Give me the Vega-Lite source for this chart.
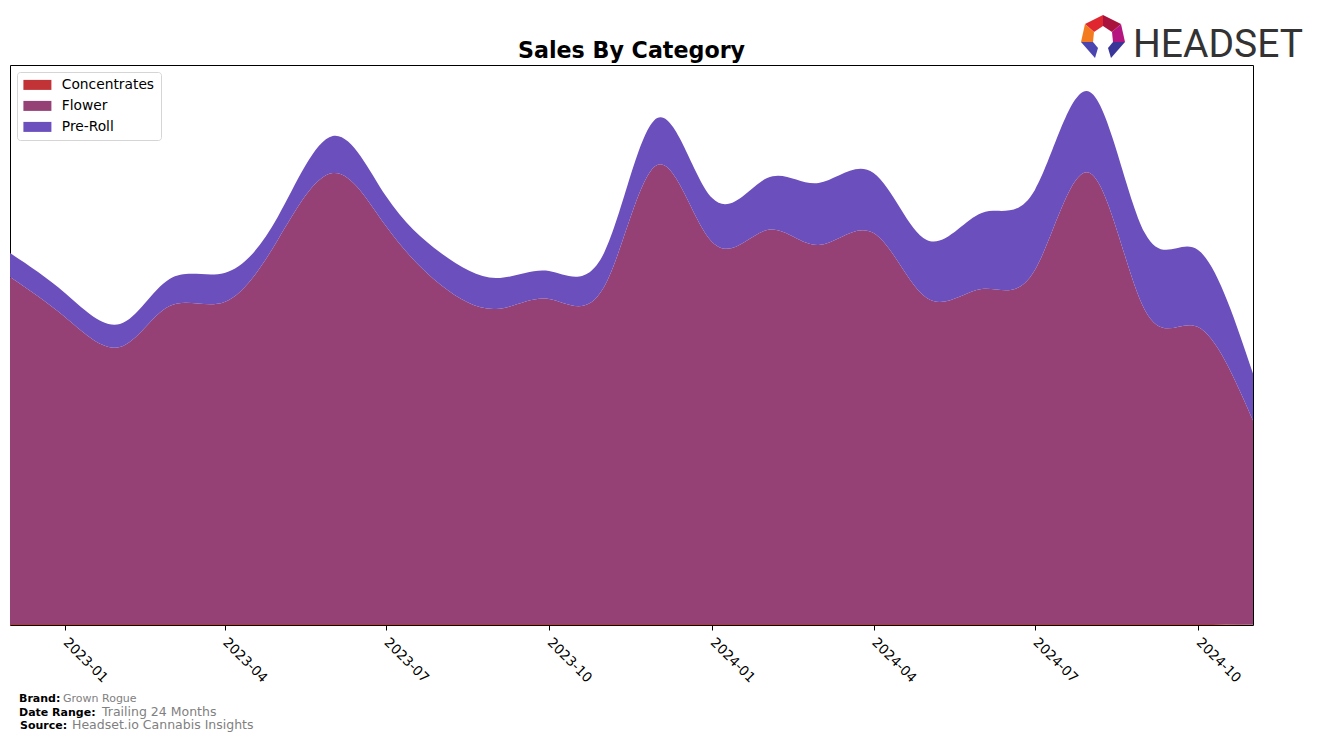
{
  "$schema": "https://vega.github.io/schema/vega-lite/v6.json",
  "autosize": {"type": "none"},
  "width": 1243,
  "height": 560,
  "padding": {"left": 10, "top": 65, "right": 64, "bottom": 117},
  "background": "white",
  "config": {
    "view": {"stroke": "black", "strokeWidth": 1},
    "font": "DejaVu Sans"
  },
  "layer": [
    {
      "data": {
        "values": [
          {"month": "2022-12-01", "category": "Concentrates", "value": 1},
          {"month": "2023-01-01", "category": "Concentrates", "value": 1},
          {"month": "2023-02-01", "category": "Concentrates", "value": 1},
          {"month": "2023-03-01", "category": "Concentrates", "value": 1},
          {"month": "2023-04-01", "category": "Concentrates", "value": 1},
          {"month": "2023-05-01", "category": "Concentrates", "value": 1},
          {"month": "2023-06-01", "category": "Concentrates", "value": 1},
          {"month": "2023-07-01", "category": "Concentrates", "value": 1},
          {"month": "2023-08-01", "category": "Concentrates", "value": 1},
          {"month": "2023-09-01", "category": "Concentrates", "value": 1},
          {"month": "2023-10-01", "category": "Concentrates", "value": 1},
          {"month": "2023-11-01", "category": "Concentrates", "value": 1},
          {"month": "2023-12-01", "category": "Concentrates", "value": 1},
          {"month": "2024-01-01", "category": "Concentrates", "value": 1},
          {"month": "2024-02-01", "category": "Concentrates", "value": 1},
          {"month": "2024-03-01", "category": "Concentrates", "value": 1},
          {"month": "2024-04-01", "category": "Concentrates", "value": 1},
          {"month": "2024-05-01", "category": "Concentrates", "value": 1},
          {"month": "2024-06-01", "category": "Concentrates", "value": 1},
          {"month": "2024-07-01", "category": "Concentrates", "value": 1},
          {"month": "2024-08-01", "category": "Concentrates", "value": 1},
          {"month": "2024-09-01", "category": "Concentrates", "value": 1},
          {"month": "2024-10-01", "category": "Concentrates", "value": 1},
          {"month": "2024-11-01", "category": "Concentrates", "value": 0.5},
          {"month": "2022-12-01", "category": "Flower", "value": 347},
          {"month": "2023-01-01", "category": "Flower", "value": 307},
          {"month": "2023-02-01", "category": "Flower", "value": 277},
          {"month": "2023-03-01", "category": "Flower", "value": 318},
          {"month": "2023-04-01", "category": "Flower", "value": 322},
          {"month": "2023-05-01", "category": "Flower", "value": 384},
          {"month": "2023-06-01", "category": "Flower", "value": 451},
          {"month": "2023-07-01", "category": "Flower", "value": 398},
          {"month": "2023-08-01", "category": "Flower", "value": 339},
          {"month": "2023-09-01", "category": "Flower", "value": 315},
          {"month": "2023-10-01", "category": "Flower", "value": 325},
          {"month": "2023-11-01", "category": "Flower", "value": 337},
          {"month": "2023-12-01", "category": "Flower", "value": 459},
          {"month": "2024-01-01", "category": "Flower", "value": 382},
          {"month": "2024-02-01", "category": "Flower", "value": 394},
          {"month": "2024-03-01", "category": "Flower", "value": 379},
          {"month": "2024-04-01", "category": "Flower", "value": 391},
          {"month": "2024-05-01", "category": "Flower", "value": 326},
          {"month": "2024-06-01", "category": "Flower", "value": 335},
          {"month": "2024-07-01", "category": "Flower", "value": 354},
          {"month": "2024-08-01", "category": "Flower", "value": 451},
          {"month": "2024-09-01", "category": "Flower", "value": 314},
          {"month": "2024-10-01", "category": "Flower", "value": 297},
          {"month": "2024-11-01", "category": "Flower", "value": 204},
          {"month": "2022-12-01", "category": "Pre-Roll", "value": 24},
          {"month": "2023-01-01", "category": "Pre-Roll", "value": 24},
          {"month": "2023-02-01", "category": "Pre-Roll", "value": 23},
          {"month": "2023-03-01", "category": "Pre-Roll", "value": 27},
          {"month": "2023-04-01", "category": "Pre-Roll", "value": 29},
          {"month": "2023-05-01", "category": "Pre-Roll", "value": 23},
          {"month": "2023-06-01", "category": "Pre-Roll", "value": 37},
          {"month": "2023-07-01", "category": "Pre-Roll", "value": 30},
          {"month": "2023-08-01", "category": "Pre-Roll", "value": 32},
          {"month": "2023-09-01", "category": "Pre-Roll", "value": 31},
          {"month": "2023-10-01", "category": "Pre-Roll", "value": 28},
          {"month": "2023-11-01", "category": "Pre-Roll", "value": 34},
          {"month": "2023-12-01", "category": "Pre-Roll", "value": 47},
          {"month": "2024-01-01", "category": "Pre-Roll", "value": 44},
          {"month": "2024-02-01", "category": "Pre-Roll", "value": 52},
          {"month": "2024-03-01", "category": "Pre-Roll", "value": 62},
          {"month": "2024-04-01", "category": "Pre-Roll", "value": 60},
          {"month": "2024-05-01", "category": "Pre-Roll", "value": 58},
          {"month": "2024-06-01", "category": "Pre-Roll", "value": 76},
          {"month": "2024-07-01", "category": "Pre-Roll", "value": 80},
          {"month": "2024-08-01", "category": "Pre-Roll", "value": 81},
          {"month": "2024-09-01", "category": "Pre-Roll", "value": 77},
          {"month": "2024-10-01", "category": "Pre-Roll", "value": 77},
          {"month": "2024-11-01", "category": "Pre-Roll", "value": 47}
        ]
      },
      "mark": {"type": "area", "interpolate": "natural", "opacity": 1},
      "encoding": {
        "x": {
          "field": "month",
          "type": "temporal",
          "scale": {"type": "utc", "domain": [{"year": 2022, "month": 12, "date": 1, "utc": true}, {"year": 2024, "month": 11, "date": 1, "utc": true}], "nice": false},
          "axis": {
            "title": null,
            "domain": false,
            "grid": false,
            "values": [
              {"year": 2023, "month": 1, "date": 1, "utc": true},
              {"year": 2023, "month": 4, "date": 1, "utc": true},
              {"year": 2023, "month": 7, "date": 1, "utc": true},
              {"year": 2023, "month": 10, "date": 1, "utc": true},
              {"year": 2024, "month": 1, "date": 1, "utc": true},
              {"year": 2024, "month": 4, "date": 1, "utc": true},
              {"year": 2024, "month": 7, "date": 1, "utc": true},
              {"year": 2024, "month": 10, "date": 1, "utc": true}
            ],
            "labelExpr": "utcFormat(datum.value, '%Y-%m')",
            "labelAngle": 45,
            "labelAlign": "left",
            "labelBaseline": "middle",
            "labelFont": "DejaVu Sans",
            "labelFontSize": 13.5,
            "labelColor": "black",
            "labelPadding": 10,
            "labelOverlap": false,
            "labelFlush": false,
            "tickColor": "black",
            "tickSize": 5,
            "tickWidth": 1
          }
        },
        "y": {
          "field": "value",
          "type": "quantitative",
          "stack": "zero",
          "scale": {"domain": [0, 560], "nice": false, "zero": true},
          "axis": null
        },
        "color": {
          "field": "category",
          "type": "nominal",
          "scale": {"domain": ["Concentrates", "Flower", "Pre-Roll"], "range": ["#c23337", "#954176", "#6a4fbd"]},
          "legend": {
            "title": null,
            "orient": "top-left",
            "offset": 7,
            "labelFont": "DejaVu Sans",
            "labelFontSize": 13.8,
            "labelColor": "black",
            "symbolType": "M-2.8,-1H2.8V1H-2.8Z",
            "symbolSize": 100,
            "symbolOpacity": 1,
            "symbolStrokeWidth": 0,
            "symbolOffset": 7.5,
            "fillColor": "white",
            "strokeColor": "#d5d5d5",
            "cornerRadius": 3,
            "padding": 6,
            "rowPadding": 6,
            "labelOffset": 17.5
          }
        },
        "order": {"field": "category", "sort": "ascending"}
      }
    },
    {
      "data": {"values": [{"t": "Sales By Category"}]},
      "mark": {"type": "text", "font": "DejaVu Sans", "fontWeight": "bold", "fontSize": 22.2, "color": "black", "align": "center", "baseline": "alphabetic"},
      "encoding": {"text": {"field": "t"}, "x": {"value": 621.5}, "y": {"value": -7}}
    },
    {
      "data": {"values": [{"t": "Brand:"}]},
      "mark": {"type": "text", "font": "DejaVu Sans", "fontWeight": "bold", "fontSize": 11, "color": "black", "align": "left", "baseline": "alphabetic"},
      "encoding": {"text": {"field": "t"}, "x": {"value": 9}, "y": {"value": 636.5}}
    },
    {
      "data": {"values": [{"t": "Grown Rogue"}]},
      "mark": {"type": "text", "font": "DejaVu Sans", "fontSize": 11, "color": "#808080", "align": "left", "baseline": "alphabetic"},
      "encoding": {"text": {"field": "t"}, "x": {"value": 53}, "y": {"value": 636.5}}
    },
    {
      "data": {"values": [{"t": "Date Range:"}]},
      "mark": {"type": "text", "font": "DejaVu Sans", "fontWeight": "bold", "fontSize": 11, "color": "black", "align": "left", "baseline": "alphabetic"},
      "encoding": {"text": {"field": "t"}, "x": {"value": 9}, "y": {"value": 651}}
    },
    {
      "data": {"values": [{"t": "Trailing 24 Months"}]},
      "mark": {"type": "text", "font": "DejaVu Sans", "fontSize": 12.5, "color": "#808080", "align": "left", "baseline": "alphabetic"},
      "encoding": {"text": {"field": "t"}, "x": {"value": 92}, "y": {"value": 651}}
    },
    {
      "data": {"values": [{"t": "Source:"}]},
      "mark": {"type": "text", "font": "DejaVu Sans", "fontWeight": "bold", "fontSize": 11, "color": "black", "align": "left", "baseline": "alphabetic"},
      "encoding": {"text": {"field": "t"}, "x": {"value": 10}, "y": {"value": 664}}
    },
    {
      "data": {"values": [{"t": "Headset.io Cannabis Insights"}]},
      "mark": {"type": "text", "font": "DejaVu Sans", "fontSize": 12.5, "color": "#808080", "align": "left", "baseline": "alphabetic"},
      "encoding": {"text": {"field": "t"}, "x": {"value": 62}, "y": {"value": 664}}
    },
    {
      "data": {"values": [{"t": "HEADSET"}]},
      "mark": {"type": "text", "font": "Roboto", "fontSize": 39, "color": "#333333", "align": "left", "baseline": "alphabetic"},
      "encoding": {"text": {"field": "t"}, "x": {"value": 1123}, "y": {"value": -8}}
    },
    {
      "data": {"values": [{"t": "logo"}]},
      "layer": [
        {"mark": {"type": "point", "filled": true, "opacity": 1, "strokeWidth": 0, "size": 4, "shape": "M-18,-14L0,-23L0,-12L-9,-6Z", "color": "#e0262f"}, "encoding": {"x": {"value": 1093}, "y": {"value": -27}}},
        {"mark": {"type": "point", "filled": true, "opacity": 1, "strokeWidth": 0, "size": 4, "shape": "M0,-23L18,-14L9,-6L0,-12Z", "color": "#a8123c"}, "encoding": {"x": {"value": 1093}, "y": {"value": -27}}},
        {"mark": {"type": "point", "filled": true, "opacity": 1, "strokeWidth": 0, "size": 4, "shape": "M-18,-14L-9,-6L-10,4L-22,4Z", "color": "#f47a20"}, "encoding": {"x": {"value": 1093}, "y": {"value": -27}}},
        {"mark": {"type": "point", "filled": true, "opacity": 1, "strokeWidth": 0, "size": 4, "shape": "M18,-14L22,4L10,4L9,-6Z", "color": "#b5157e"}, "encoding": {"x": {"value": 1093}, "y": {"value": -27}}},
        {"mark": {"type": "point", "filled": true, "opacity": 1, "strokeWidth": 0, "size": 4, "shape": "M-22,4L-10,4L-5,10L-8,20Z", "color": "#4b45b0"}, "encoding": {"x": {"value": 1093}, "y": {"value": -27}}},
        {"mark": {"type": "point", "filled": true, "opacity": 1, "strokeWidth": 0, "size": 4, "shape": "M22,4L10,4L5,10L8,20Z", "color": "#3a3598"}, "encoding": {"x": {"value": 1093}, "y": {"value": -27}}}
      ]
    }
  ]
}
